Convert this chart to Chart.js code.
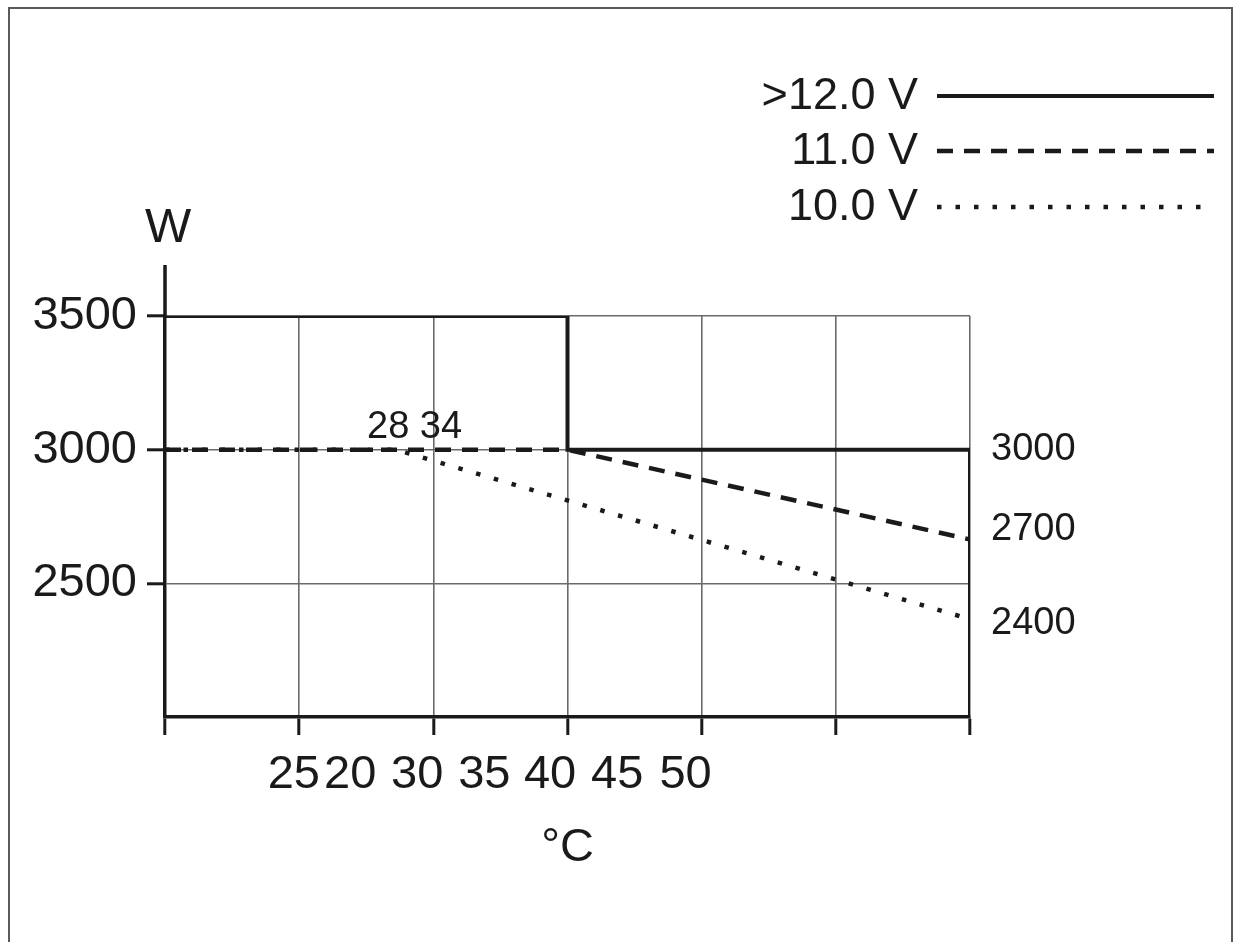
<!DOCTYPE html>
<html>
<head>
<meta charset="utf-8">
<script src="https://cdn.jsdelivr.net/npm/chart.js@4.4.0/dist/chart.umd.min.js"></script>
<style>
html,body{margin:0;padding:0;background:#fff;}
#wrap{position:relative;width:1234px;height:942px;overflow:hidden;}
#frame{position:absolute;left:8px;top:7px;width:1225px;height:940px;border:2px solid #5a5a5a;border-bottom:none;box-sizing:border-box;pointer-events:none;}
</style>
</head>
<body>
<div id="wrap"><canvas id="c"></canvas><div id="frame"></div></div>
<script>
// ---- data ----
const seriesNames = ['>12.0 V', '11.0 V', '10.0 V'];
const x12 = [20, 35, 35, 50, 50];
const y12 = [3500, 3500, 3000, 3000, 2000];
const x11 = [20, 35, 50];
const y11 = [3000, 3000, 2664];
const x10 = [20, 28.6, 50];
const y10 = [3000, 3000, 2366];
const xGridTicks = [20, 25, 30, 35, 40, 45, 50];
const xLabelPositions = [24.8, 26.9, 29.4, 31.9, 34.35, 36.85, 39.4];
const xLabels = ['25', '20', '30', '35', '40', '45', '50'];
const yTicks = [2500, 3000, 3500];
const rightTickValues = [3000, 2700, 2350];
const rightTickLabels = ['3000', '2700', '2400'];
const xTitle = '°C';
const yTitle = 'W';
const annotationTexts = ['28 34'];
const annotationX = [29.3];
const annotationY = [3000];

// ---- styles ----
const FONT = '"Liberation Sans", Arial, Helvetica, sans-serif';
const INK = '#1a1a1a';
const GRID = '#6a6a6a';

const toPts = (xs, ys) => xs.map((x, i) => ({x: x, y: ys[i]}));

const legendPlugin = {
  id: 'customLegend',
  afterDraw(chart) {
    const ctx = chart.ctx;
    const rows = [96, 151, 207];
    ctx.save();
    chart.data.datasets.forEach((ds, i) => {
      const y = rows[i];
      ctx.font = '45px ' + FONT;
      ctx.textAlign = 'right';
      ctx.textBaseline = 'middle';
      ctx.fillStyle = INK;
      ctx.fillText(ds.label, 918, y + 1);
      ctx.beginPath();
      ctx.setLineDash(ds.borderDash || []);
      ctx.lineWidth = ds.borderWidth;
      ctx.strokeStyle = ds.borderColor;
      ctx.lineCap = 'butt';
      ctx.moveTo(937, y);
      ctx.lineTo(1214, y);
      ctx.stroke();
    });
    ctx.restore();
  }
};

const extrasPlugin = {
  id: 'extras',
  afterDraw(chart) {
    const ctx = chart.ctx;
    const ca = chart.chartArea;
    const xs = chart.scales.x, ys = chart.scales.y;
    ctx.save();
    // y axis extension above the plot frame
    ctx.beginPath();
    ctx.setLineDash([]);
    ctx.lineWidth = 3.5;
    ctx.strokeStyle = INK;
    ctx.moveTo(ca.left, ca.top);
    ctx.lineTo(ca.left, ca.top - 51);
    ctx.stroke();
    // y axis unit
    ctx.font = '49px ' + FONT;
    ctx.fillStyle = INK;
    ctx.textAlign = 'center';
    ctx.textBaseline = 'middle';
    ctx.fillText(yTitle, ca.left + 3, ca.top - 88);
    // annotations
    ctx.font = '38px ' + FONT;
    ctx.textBaseline = 'alphabetic';
    annotationTexts.forEach((t, i) => {
      ctx.fillText(t, xs.getPixelForValue(annotationX[i]), ys.getPixelForValue(annotationY[i]) - 12);
    });
    ctx.restore();
  }
};

new Chart(document.getElementById('c'), {
  type: 'scatter',
  data: {
    datasets: [
      {label: seriesNames[0], data: toPts(x12, y12), showLine: true, borderColor: INK, borderWidth: 4, borderDash: [], pointRadius: 0, tension: 0, fill: false},
      {label: seriesNames[1], data: toPts(x11, y11), showLine: true, borderColor: INK, borderWidth: 4.5, borderDash: [16, 11], pointRadius: 0, tension: 0, fill: false},
      {label: seriesNames[2], data: toPts(x10, y10), showLine: true, borderColor: INK, borderWidth: 4.5, borderDash: [4.5, 14], pointRadius: 0, tension: 0, fill: false}
    ]
  },
  options: {
    responsive: true,
    maintainAspectRatio: false,
    animation: false,
    layout: {padding: {top: 316, right: 0, bottom: 0, left: 0}},
    plugins: {legend: {display: false}, tooltip: {enabled: false}},
    scales: {
      x: {
        type: 'linear', position: 'bottom', min: 20, max: 50, weight: 0,
        afterBuildTicks: s => { s.ticks = xGridTicks.map(v => ({value: v})); },
        afterFit: s => { s.height = 18; },
        ticks: {display: false},
        grid: {color: GRID, lineWidth: 1.6, drawTicks: true, tickLength: 18, tickColor: INK, tickWidth: 3},
        border: {display: true, color: INK, width: 3.5}
      },
      x2: {
        type: 'linear', position: 'bottom', min: 20, max: 50, weight: 1,
        afterBuildTicks: s => { s.ticks = xLabelPositions.map(v => ({value: v})); },
        afterFit: s => { s.height = 207; },
        ticks: {callback: (v, i) => xLabels[i], autoSkip: false, maxRotation: 0, minRotation: 0, font: {size: 47, family: FONT}, color: INK, padding: 4},
        grid: {display: false},
        border: {display: false},
        title: {display: true, text: xTitle, font: {size: 47, family: FONT}, color: INK, padding: {top: 0, bottom: 66}}
      },
      y: {
        type: 'linear', position: 'left', min: 2000, max: 3500,
        afterBuildTicks: s => { s.ticks = yTicks.map(v => ({value: v})); },
        afterFit: s => { s.width = 165; },
        ticks: {callback: v => String(v), font: {size: 47, family: FONT}, color: INK, padding: 10},
        grid: {color: GRID, lineWidth: 1.6, drawTicks: true, tickLength: 18, tickColor: INK, tickWidth: 3},
        border: {display: true, color: INK, width: 3.5}
      },
      y2: {
        type: 'linear', position: 'right', min: 2000, max: 3500,
        afterBuildTicks: s => { s.ticks = rightTickValues.map(v => ({value: v})); },
        afterFit: s => { s.width = 264; },
        ticks: {callback: (v, i) => rightTickLabels[i], font: {size: 38, family: FONT}, color: INK, padding: 13},
        grid: {display: false},
        border: {display: false}
      }
    }
  },
  plugins: [legendPlugin, extrasPlugin]
});
</script>
</body>
</html>
